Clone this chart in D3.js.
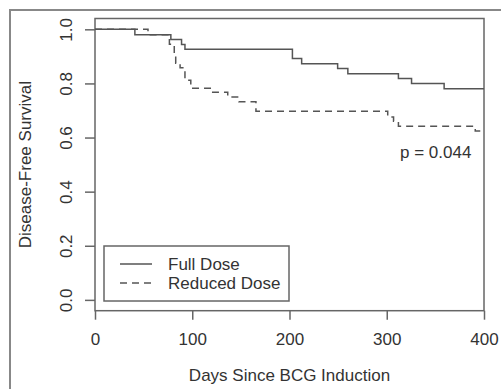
<!DOCTYPE html>
<html>
<head>
<meta charset="utf-8">
<script src="https://cdn.jsdelivr.net/npm/d3@7"></script>
<style>
body { margin: 0; background: #fff; }
svg { display: block; font-family: "Liberation Sans", Arial, sans-serif; }
</style>
</head>
<body>
<svg width="501" height="389"></svg>
<script>
// Kaplan-Meier steps
var fullDays = [0, 41, 78, 89, 92.5, 203, 212.5, 249.5, 260, 312, 325.5, 359];
var fullSurv = [1.0, 0.98, 0.962, 0.944, 0.926, 0.892, 0.873, 0.855, 0.836, 0.818, 0.80, 0.78];

var reducedDays = [0, 54.5, 76.5, 81.5, 83, 87.5, 92.5, 98.5, 120, 136.5, 148, 165.5, 301, 307, 312, 391];
var reducedSurv = [1.0, 0.98, 0.945, 0.9, 0.875, 0.858, 0.812, 0.782, 0.767, 0.75, 0.732, 0.697, 0.676, 0.66, 0.642, 0.624];

var xTicks = [0, 100, 200, 300, 400];
var yTicks = [0.0, 0.2, 0.4, 0.6, 0.8, 1.0];
var maxDay = 400;

var svg = d3.select("svg");
var ink = "#555", textCol = "#333";

// outer figure frame
svg.append("rect")
    .attr("x", 10).attr("y", 10)
    .attr("width", 520).attr("height", 400)
    .attr("fill", "none").attr("stroke", "#888").attr("stroke-width", 2);

var plotL = 95, plotR = 484, plotT = 18.5, plotB = 310.7;

var x = d3.scaleLinear().domain([0, maxDay]).range([plotL, plotR]);
var y = d3.scaleLinear().domain([-0.04, 1.04]).range([plotB, plotT]);

// plot box
svg.append("rect")
    .attr("x", plotL).attr("y", plotT)
    .attr("width", plotR - plotL).attr("height", plotB - plotT)
    .attr("fill", "none").attr("stroke", "#666").attr("stroke-width", 1.5);

var xAxis = svg.append("g")
    .attr("transform", "translate(0," + plotB + ")")
    .call(d3.axisBottom(x).tickValues(xTicks).tickSize(9).tickPadding(13).tickFormat(d3.format("d")));
xAxis.select(".domain").remove();

var yAxis = svg.append("g")
    .attr("transform", "translate(" + plotL + ",0)")
    .call(d3.axisLeft(y).tickValues(yTicks).tickSize(10).tickFormat(d3.format(".1f")));
yAxis.select(".domain").remove();

svg.selectAll(".tick line").attr("stroke", "#666").attr("stroke-width", 1.5);
svg.selectAll(".tick text").attr("fill", textCol).style("font-size", "17px").attr("font-family", null);
yAxis.selectAll(".tick text")
    .attr("text-anchor", "middle")
    .attr("x", 0).attr("y", 0).attr("dy", "0.35em")
    .attr("transform", "translate(-29,0) rotate(-90)");

// axis titles
svg.append("text")
    .attr("x", (plotL + plotR) / 2).attr("y", 381)
    .attr("text-anchor", "middle").attr("fill", textCol).style("font-size", "17px")
    .text("Days Since BCG Induction");
svg.append("text")
    .attr("transform", "translate(31," + (plotT + plotB) / 2 + ") rotate(-90)")
    .attr("text-anchor", "middle").attr("fill", textCol).style("font-size", "17px")
    .text("Disease-Free Survival");

function stepData(days, surv) {
    var pts = days.map(function(d, i) { return [d, surv[i]]; });
    pts.push([maxDay, surv[surv.length - 1]]);
    return pts;
}

var line = d3.line()
    .x(function(d) { return x(d[0]); })
    .y(function(d) { return y(d[1]); })
    .curve(d3.curveStepAfter);

svg.append("path")
    .datum(stepData(reducedDays, reducedSurv))
    .attr("d", line)
    .attr("fill", "none").attr("stroke", ink).attr("stroke-width", 1.5)
    .attr("stroke-dasharray", "7,5");

svg.append("path")
    .datum(stepData(fullDays, fullSurv))
    .attr("d", line)
    .attr("fill", "none").attr("stroke", ink).attr("stroke-width", 1.5);

svg.append("text")
    .attr("x", 400).attr("y", 158)
    .attr("fill", textCol).style("font-size", "17px")
    .text("p = 0.044");

// legend
var legend = svg.append("g");
legend.append("rect")
    .attr("x", 104).attr("y", 246).attr("width", 185).attr("height", 55)
    .attr("fill", "#fff").attr("stroke", "#666").attr("stroke-width", 1.5);
var legendItems = [{ label: "Full Dose", dash: null }, { label: "Reduced Dose", dash: "7,5" }];
legendItems.forEach(function(it, i) {
    var ly = 264 + i * 19;
    legend.append("line")
        .attr("x1", 120).attr("x2", 152).attr("y1", ly).attr("y2", ly)
        .attr("stroke", ink).attr("stroke-width", 1.5)
        .attr("stroke-dasharray", it.dash);
    legend.append("text")
        .attr("x", 168).attr("y", ly).attr("dy", "0.35em")
        .attr("fill", textCol).style("font-size", "17px")
        .text(it.label);
});
</script>
</body>
</html>
